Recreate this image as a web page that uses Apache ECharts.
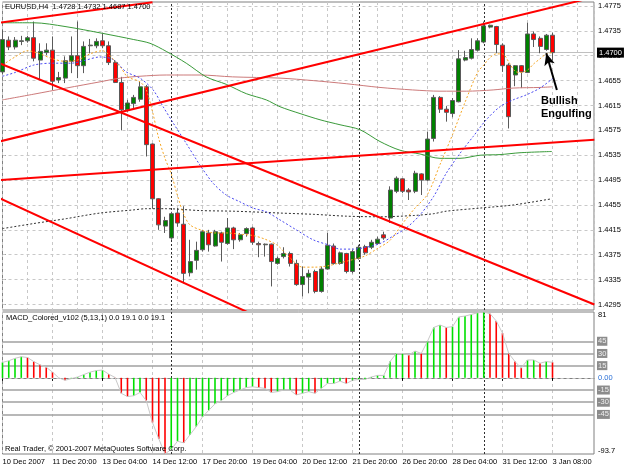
<!DOCTYPE html>
<html>
<head>
<meta charset="utf-8">
<title>EURUSD,H4</title>
<script src="https://cdn.jsdelivr.net/npm/echarts@6.0.0/dist/echarts.min.js"></script>
<style>
  html, body { margin: 0; padding: 0; background: #fff; }
  #chart { width: 625px; height: 469px; }
</style>
</head>
<body>
<div id="chart"></div>
<script>
// bar 0 is the first visible H4 bar, a time label every 8 bars
const timeLabels = ['10 Dec 2007', '11 Dec 20:00', '13 Dec 04:00', '14 Dec 12:00', '17 Dec 20:00', '19 Dec 04:00',
  '20 Dec 12:00', '21 Dec 20:00', '26 Dec 20:00', '28 Dec 04:00', '31 Dec 12:00', '3 Jan 08:00']
const priceTicks = [1.4295, 1.4335, 1.4375, 1.4415, 1.4455, 1.4495, 1.4535, 1.4575, 1.4615, 1.4655, 1.4695, 1.4735, 1.4775]
const bidPrice = 1.4700
const weekStarts = [27, 57, 77]

// [open, close, low, high]
const candles = [
  [1.4669, 1.4721, 1.4665, 1.4736], [1.4720, 1.4709, 1.4704, 1.4726], [1.4709, 1.4720, 1.4705, 1.4725],
  [1.4718, 1.4719, 1.4712, 1.4727], [1.4719, 1.4724, 1.4716, 1.4727], [1.4724, 1.4691, 1.4686, 1.4750],
  [1.4688, 1.4702, 1.4656, 1.4715], [1.4700, 1.4704, 1.4696, 1.4715], [1.4704, 1.4654, 1.4640, 1.4726],
  [1.4656, 1.4660, 1.4651, 1.4669], [1.4659, 1.4687, 1.4651, 1.4694], [1.4686, 1.4695, 1.4667, 1.4726],
  [1.4695, 1.4679, 1.4659, 1.4750], [1.4679, 1.4710, 1.4667, 1.4718], [1.4711, 1.4712, 1.4699, 1.4722],
  [1.4711, 1.4718, 1.4707, 1.4723], [1.4719, 1.4711, 1.4707, 1.4731], [1.4711, 1.4684, 1.4680, 1.4718],
  [1.4684, 1.4652, 1.4651, 1.4688], [1.4652, 1.4608, 1.4575, 1.4661], [1.4608, 1.4619, 1.4605, 1.4624],
  [1.4618, 1.4628, 1.4611, 1.4632], [1.4625, 1.4645, 1.4621, 1.4653], [1.4645, 1.4552, 1.4533, 1.4648],
  [1.4553, 1.4465, 1.4449, 1.4554], [1.4465, 1.4423, 1.4415, 1.4466], [1.4421, 1.4430, 1.4410, 1.4436],
  [1.4402, 1.4441, 1.4399, 1.4444], [1.4442, 1.4426, 1.4420, 1.4450], [1.4424, 1.4345, 1.4329, 1.4453],
  [1.4346, 1.4364, 1.4340, 1.4399], [1.4366, 1.4382, 1.4351, 1.4396], [1.4383, 1.4412, 1.4380, 1.4415],
  [1.4410, 1.4391, 1.4380, 1.4415], [1.4389, 1.4412, 1.4388, 1.4415], [1.4410, 1.4395, 1.4364, 1.4412],
  [1.4393, 1.4418, 1.4391, 1.4434], [1.4418, 1.4399, 1.4384, 1.4420], [1.4399, 1.4407, 1.4396, 1.4410],
  [1.4409, 1.4417, 1.4404, 1.4419], [1.4418, 1.4395, 1.4391, 1.4420], [1.4393, 1.4391, 1.4371, 1.4396],
  [1.4391, 1.4392, 1.4372, 1.4393], [1.4392, 1.4364, 1.4324, 1.4393], [1.4361, 1.4369, 1.4359, 1.4372],
  [1.4372, 1.4377, 1.4369, 1.4387], [1.4377, 1.4361, 1.4356, 1.4380], [1.4361, 1.4327, 1.4325, 1.4367],
  [1.4327, 1.4340, 1.4308, 1.4356], [1.4339, 1.4345, 1.4313, 1.4351], [1.4348, 1.4316, 1.4313, 1.4351],
  [1.4316, 1.4352, 1.4314, 1.4356], [1.4352, 1.4390, 1.4351, 1.4410], [1.4389, 1.4361, 1.4359, 1.4393],
  [1.4361, 1.4378, 1.4359, 1.4380], [1.4377, 1.4348, 1.4345, 1.4378], [1.4348, 1.4380, 1.4345, 1.4383],
  [1.4369, 1.4387, 1.4367, 1.4391], [1.4388, 1.4378, 1.4375, 1.4391], [1.4387, 1.4395, 1.4384, 1.4399],
  [1.4393, 1.4400, 1.4391, 1.4404], [1.4407, 1.4402, 1.4399, 1.4412], [1.4434, 1.4479, 1.4426, 1.4485],
  [1.4477, 1.4498, 1.4474, 1.4501], [1.4497, 1.4477, 1.4474, 1.4498], [1.4479, 1.4476, 1.4463, 1.4482],
  [1.4477, 1.4506, 1.4474, 1.4510], [1.4505, 1.4495, 1.4471, 1.4506], [1.4495, 1.4561, 1.4493, 1.4573],
  [1.4562, 1.4628, 1.4557, 1.4632], [1.4628, 1.4609, 1.4603, 1.4630], [1.4609, 1.4604, 1.4589, 1.4614],
  [1.4602, 1.4623, 1.4596, 1.4627], [1.4621, 1.4690, 1.4620, 1.4704], [1.4688, 1.4692, 1.4686, 1.4703],
  [1.4691, 1.4705, 1.4689, 1.4723], [1.4704, 1.4719, 1.4702, 1.4723], [1.4717, 1.4743, 1.4715, 1.4750],
  [1.4741, 1.4744, 1.4739, 1.4745], [1.4742, 1.4713, 1.4699, 1.4743], [1.4712, 1.4679, 1.4669, 1.4715],
  [1.4680, 1.4597, 1.4578, 1.4683], [1.4664, 1.4679, 1.4646, 1.4680], [1.4679, 1.4669, 1.4643, 1.4680],
  [1.4668, 1.4730, 1.4667, 1.4748], [1.4730, 1.4721, 1.4709, 1.4734], [1.4723, 1.4710, 1.4699, 1.4726],
  [1.4705, 1.4728, 1.4703, 1.4730], [1.4728, 1.4700, 1.4687, 1.4732]
]

// moving averages: [bar, price]
const maOrange = [[0, 1.4680], [2, 1.4693], [4, 1.4703], [6, 1.4698], [8, 1.4690], [10, 1.4686], [12, 1.4688],
  [14, 1.4698], [16, 1.4703], [17, 1.4697], [18, 1.4686], [19, 1.4675], [20, 1.4661], [22, 1.4653], [23, 1.4640],
  [24, 1.4605], [25, 1.4562], [26, 1.4530], [27, 1.4505], [28, 1.4470], [29, 1.4440], [30, 1.4423], [32, 1.4414],
  [34, 1.4410], [36, 1.4410], [38, 1.4408], [40, 1.4406], [42, 1.4400], [44, 1.4390], [46, 1.4370], [48, 1.4355],
  [50, 1.4355], [52, 1.4357], [54, 1.4362], [56, 1.4367], [58, 1.4373], [60, 1.4385], [62, 1.4398], [64, 1.4425],
  [66, 1.4450], [68, 1.4472], [70, 1.4520], [72, 1.4568], [74, 1.4620], [76, 1.4668], [77, 1.4680], [78, 1.4692],
  [79, 1.4698], [80, 1.4698], [81, 1.4685], [82, 1.4670], [83, 1.4668], [84, 1.4672], [85, 1.4682], [86, 1.4690],
  [87, 1.4698], [88, 1.4700]]
const maBlue = [[0, 1.4662], [2, 1.4668], [5, 1.4680], [8, 1.4683], [11, 1.4683], [13, 1.4687], [15.6, 1.4693],
  [17.7, 1.4689], [19.8, 1.4669], [22, 1.4659], [24.1, 1.4640], [25.7, 1.4613], [27.3, 1.4587], [29.4, 1.4554],
  [31.6, 1.4519], [33.7, 1.4490], [35.8, 1.4471], [38, 1.4460], [40.1, 1.4450], [42.2, 1.4444], [44.4, 1.4431],
  [47, 1.4415], [49.7, 1.4399], [52.4, 1.4390], [54, 1.4384], [56.1, 1.4384], [58.2, 1.4387], [60.4, 1.4393],
  [62.5, 1.4405], [64.6, 1.4418], [66.8, 1.4439], [69, 1.4469], [71, 1.4506], [73.2, 1.4538], [75.3, 1.4565],
  [77.4, 1.4592], [79.6, 1.4613], [81.7, 1.4624], [83.8, 1.4632], [86, 1.4643], [88.1, 1.4659]]
const maGreen = [[0, 1.4748], [5, 1.4748], [10, 1.4742], [16, 1.4731], [21, 1.4721], [23.6, 1.4715], [26.2, 1.4702],
  [29.4, 1.4683], [32.6, 1.4661], [35.8, 1.4649], [39, 1.4634], [42.2, 1.4624], [44.4, 1.4613], [47.6, 1.4602],
  [50.8, 1.4592], [54, 1.4584], [57.2, 1.4576], [60.4, 1.4557], [63.6, 1.4543], [66.8, 1.4537], [70, 1.4530],
  [73.2, 1.4530], [76.4, 1.4535], [79.6, 1.4536], [82.8, 1.4539], [87.9, 1.4541]]
const maRose = [[0, 1.4624], [4.9, 1.4633], [10.2, 1.4643], [15.6, 1.4653], [18.8, 1.4659], [22, 1.4662],
  [26.2, 1.4664], [31.6, 1.4664], [36.8, 1.4661], [44.4, 1.4659], [49.7, 1.4655], [55, 1.4650], [60.4, 1.4644],
  [65.6, 1.4640], [70, 1.4638], [74.2, 1.4638], [78.5, 1.4640], [81.7, 1.4643], [86, 1.4644], [87.9, 1.4645]]
const maBlack = [[0, 1.4417], [4.9, 1.4425], [10.2, 1.4433], [15.6, 1.4442], [20.9, 1.4447], [23, 1.4449],
  [26.2, 1.4449], [31.6, 1.4446], [36.9, 1.4445], [42.2, 1.4443], [44.4, 1.4442], [49.7, 1.4440], [55, 1.4437],
  [60.4, 1.4436], [65.7, 1.4438], [69, 1.4441], [71, 1.4445], [76.4, 1.4450], [81.7, 1.4455], [87.9, 1.4465]]

// hand drawn trend lines, two anchor points each: [bar, price]
const trendLines = [
  [[-0.5, 1.4748], [24, 1.4781]],
  [[-0.5, 1.4557], [95, 1.4790]],
  [[-0.5, 1.4683], [94.7, 1.4295]],
  [[-0.5, 1.4466], [40, 1.4279]],
  [[-0.5, 1.4495], [94.7, 1.4560]]
]
const arrowFrom = [88.7, 1.4640]
const arrowTo = [87.0, 1.4699]

// MACD_Colored (5,13,1) histogram per bar
const macdHist = [19, 21, 24, 26, 25, 20, 16, 13, 7, 0, -3, -1, 1, 4, 7, 9, 9.5, 4.5, 0.5, -19,
  -23, -22, -18, -28, -55, -75, -93.7, -88, -78, -80, -70, -60, -48, -40, -32, -28, -22, -18, -15, -12,
  -11, -12, -13, -18, -17, -15, -15, -21, -19, -17, -19, -13, -7, -7, -4, -7, -3, -2, -2, 1,
  3, 3, 20, 30, 30, 28, 33, 30, 45, 62, 65, 62, 63, 75, 76, 78, 80, 81, 79, 70,
  55, 30, 20, 12, 22, 22, 18, 20, 19.1]
const macdLevels = [45, 30, 15, -15, -30, -45]

const FONT = '"Liberation Sans", Arial, sans-serif'
const FS = 7.5
const PLOT_LEFT = 2.5
const PLOT_W = 591.5
const BAR_PX = 6.25
const xMax = PLOT_W / BAR_PX

const chart = echarts.init(document.getElementById('chart'))

const gridLine = { color: '#c8c8c8', type: [3, 3], width: 1 }
const sepLine = { color: '#303030', type: [2, 2], width: 1 }

function maSeries(name, data, color, type) {
  return {
    name: name, type: 'line', xAxisIndex: 0, yAxisIndex: 0, data: data,
    showSymbol: false, symbol: 'none', smooth: 0.3, silent: true, z: 3,
    lineStyle: { color: color, width: 1, type: type }
  }
}

const priceMarks = priceTicks.map(v => ({
  yAxis: v, lineStyle: gridLine,
  label: { show: true, position: 'end', distance: 4, formatter: v.toFixed(4), color: '#000', fontSize: FS, fontFamily: FONT }
}))
weekStarts.forEach(b => priceMarks.push({ xAxis: b, lineStyle: sepLine, label: { show: false } }))
priceMarks.push({
  yAxis: bidPrice, lineStyle: { color: '#c0c0c0', type: 'solid', width: 1 },
  label: { show: true, position: 'end', distance: 3, formatter: bidPrice.toFixed(4), color: '#fff',
    backgroundColor: '#000', padding: [1, 2, 1, 2], fontSize: FS, fontFamily: FONT }
})

const macdMarks = macdLevels.map(v => ({
  yAxis: v, lineStyle: { color: '#a0a0a0', type: 'solid', width: 1.5 },
  label: { show: true, position: 'end', distance: 3, formatter: String(v), color: '#f0f0f0',
    backgroundColor: '#8c8c8c', padding: [1, 1, 0, 1], fontSize: FS, fontFamily: FONT }
}))
macdMarks.push({ yAxis: 0, lineStyle: gridLine, label: { show: false } })
weekStarts.forEach(b => macdMarks.push({ xAxis: b, lineStyle: sepLine, label: { show: false } }))

const option = {
  animation: false,
  backgroundColor: '#fff',
  textStyle: { fontFamily: FONT },
  grid: [
    { left: PLOT_LEFT, top: 2, width: PLOT_W, height: 308, show: true, borderColor: '#808080', borderWidth: 1,
      backgroundColor: 'transparent', containLabel: false, outerBoundsMode: 'none' },
    { left: PLOT_LEFT, top: 312, width: PLOT_W, height: 142, show: true, borderColor: '#808080', borderWidth: 1,
      backgroundColor: 'transparent', containLabel: false, outerBoundsMode: 'none' }
  ],
  xAxis: [
    { type: 'value', gridIndex: 0, min: 0, max: xMax, interval: 4,
      axisLine: { show: false }, axisTick: { show: false }, axisLabel: { show: false },
      splitLine: { show: true, lineStyle: gridLine } },
    { type: 'value', gridIndex: 1, min: 0, max: xMax, interval: 4,
      axisLine: { show: true, lineStyle: { color: '#808080' } },
      axisTick: { show: true, length: 3, customValues: timeLabels.map((t, k) => k * 8), lineStyle: { color: '#000' } },
      axisLabel: { show: true, fontSize: FS, color: '#000', align: 'left', margin: 4, fontFamily: FONT,
        formatter: v => (v % 8 === 0 && v / 8 < timeLabels.length) ? timeLabels[v / 8] : '' },
      splitLine: { show: true, lineStyle: gridLine } }
  ],
  yAxis: [
    { type: 'value', gridIndex: 0, position: 'right', min: 1.42861, max: 1.47814, scale: true,
      axisLine: { show: false }, axisLabel: { show: false }, splitLine: { show: false },
      axisTick: { show: true, length: 3, customValues: priceTicks, lineStyle: { color: '#000' } } },
    { type: 'value', gridIndex: 1, position: 'right', min: -93.7, max: 81,
      axisLine: { show: false }, axisTick: { show: false }, splitLine: { show: false },
      axisLabel: { show: true, margin: 4, fontSize: FS, color: '#000', fontFamily: FONT,
        showMinLabel: true, showMaxLabel: true,
        formatter: v => v === 81 ? '{mx|81}' : (v === -93.7 ? '{mn|-93.7}' : (v === 0 ? '{z|0.00}' : '')),
        rich: {
          mx: { fontSize: FS, color: '#000', padding: [6, 0, 0, 0] },
          mn: { fontSize: FS, color: '#000', padding: [0, 0, 6, 0] },
          z: { fontSize: FS, color: '#2a6fd6' }
        } } }
  ],
  series: [
    {
      name: 'EURUSD', type: 'candlestick', xAxisIndex: 0, yAxisIndex: 0, z: 2, barWidth: 4.5, silent: true,
      data: candles.map((c, i) => [i, c[0], c[1], c[2], c[3]]),
      encode: { x: 0, y: [1, 2, 3, 4] },
      itemStyle: { color: '#008000', color0: '#ff0000', borderColor: '#5a5a5a', borderColor0: '#5a5a5a', borderWidth: 1 },
      markLine: { silent: true, symbol: 'none', z: 1, precision: 4, animation: false, data: priceMarks }
    },
    maSeries('MA black', maBlack, '#303030', [2, 2]),
    maSeries('MA rose', maRose, '#cc7a7a', 'solid'),
    maSeries('MA green', maGreen, '#3a9a3a', 'solid'),
    maSeries('MA blue', maBlue, '#4a4af0', [2, 2]),
    maSeries('MA orange', maOrange, '#f5a623', [2, 2]),
    ...trendLines.map((pts, k) => ({
      name: 'trend' + k, type: 'line', xAxisIndex: 0, yAxisIndex: 0, data: pts, showSymbol: false, symbol: 'none',
      silent: true, z: 5, clip: true, lineStyle: { color: '#ff0000', width: 2 },
      markLine: k === 0 ? {
        silent: true, z: 6, precision: 4, animation: false,
        data: [[{ coord: arrowFrom, symbol: 'none' }, { coord: arrowTo, symbol: 'arrow', symbolSize: [8, 12] }]],
        lineStyle: { color: '#000', width: 2, type: 'solid' }, label: { show: false }
      } : undefined
    })),
    {
      name: 'MACD', type: 'bar', xAxisIndex: 1, yAxisIndex: 1, z: 2, barWidth: 1.6, silent: true,
      data: macdHist.map((v, i) => [i, v]),
      itemStyle: { color: p => (p.dataIndex === 0 || macdHist[p.dataIndex] >= macdHist[p.dataIndex - 1]) ? '#00e000' : '#ff0000' },
      markLine: { silent: true, symbol: 'none', z: 1, precision: 2, animation: false, data: macdMarks }
    },
    {
      name: 'Signal', type: 'line', xAxisIndex: 1, yAxisIndex: 1, z: 3, silent: true,
      data: macdHist.map((v, i) => [i, v]), showSymbol: false, symbol: 'none',
      lineStyle: { color: '#c8c8c8', width: 1 }
    }
  ],
  graphic: [
    { type: 'text', left: 5, top: 3, z: 10, style: { text: 'EURUSD,H4  1.4728 1.4732 1.4687 1.4700', font: FS + 'px ' + FONT, fill: '#000' } },
    { type: 'text', left: 6, top: 314, z: 10, style: { text: 'MACD_Colored_v102 (5,13,1) 0.0 19.1 0.0 19.1', font: FS + 'px ' + FONT, fill: '#000' } },
    { type: 'text', left: 5, top: 445, z: 10, style: { text: 'Real Trader, © 2001-2007 MetaQuotes Software Corp.', font: FS + 'px ' + FONT, fill: '#000' } },
    { type: 'text', left: 541, top: 94, z: 10, style: { text: 'Bullish\nEngulfing', font: 'bold 11px ' + FONT, fill: '#000', lineHeight: 13 } }
  ]
}

chart.setOption(option)
</script>
</body>
</html>
